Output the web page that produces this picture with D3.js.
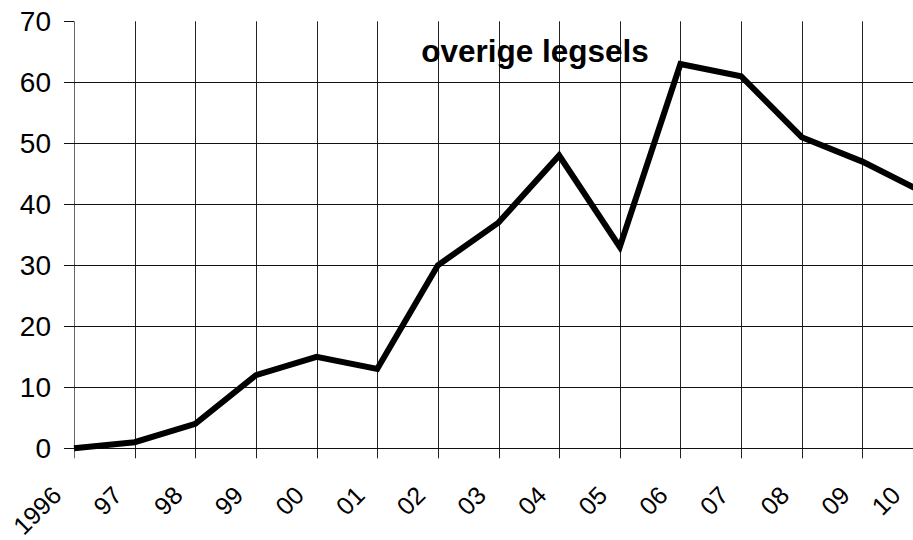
<!DOCTYPE html>
<html><head><meta charset="utf-8">
<script src="https://cdn.jsdelivr.net/npm/d3@7/dist/d3.min.js"></script>
<style>html,body{margin:0;padding:0;background:#fff;}svg{display:block;}</style>
</head><body><svg id="c" width="913" height="540"></svg>
<script>
const years = [1996,1997,1998,1999,2000,2001,2002,2003,2004,2005,2006,2007,2008,2009,2010];
const yearLabels = ["1996","97","98","99","00","01","02","03","04","05","06","07","08","09","10"];
const values = [0,1,4,12,15,13,30,37,48,33,63,61,51,47,42];
const yTicks = [0,10,20,30,40,50,60,70];
const title = "overige legsels";

const svg = d3.select("#c");
const font = "'Liberation Sans', Arial, sans-serif";
const W = 913;
const x = d3.scalePoint().domain(years).range([74, 923]);
const y = d3.scaleLinear().domain([0,70]).range([448.3, 21.3]);

// vertical grid lines (with tick extension below)
svg.append("g").selectAll("line").data(years).join("line")
  .attr("x1", d=>Math.round(x(d))+0.5).attr("x2", d=>Math.round(x(d))+0.5)
  .attr("y1", y(70)).attr("y2", y(0)+10)
  .attr("stroke", d=>d===1996?"#666":"#222").attr("stroke-width",1);

// horizontal grid lines
svg.append("g").selectAll("line").data(yTicks).join("line")
  .attr("x1", 64).attr("x2", d=>d===70?74:W)
  .attr("y1", d=>Math.round(y(d))+0.5).attr("y2", d=>Math.round(y(d))+0.5)
  .attr("stroke", "#111").attr("stroke-width",1);

// y labels
svg.append("g").selectAll("text").data(yTicks).join("text")
  .attr("x", 51).attr("y", d=>y(d)).attr("dy","0.36em")
  .attr("text-anchor","end").attr("font-family",font).attr("font-size",28)
  .attr("fill","#000").text(d=>d);

// x labels
svg.append("g").selectAll("text").data(years).join("text")
  .attr("transform", (d)=>`translate(${Math.min(x(d), W)-11},${497}) rotate(-45)`)
  .attr("text-anchor","end").attr("font-family",font).attr("font-size",25)
  .attr("fill","#000").text((d,i)=>yearLabels[i]);

// line
const line = d3.line().x((d,i)=>x(years[i])).y(d=>y(d));
svg.append("path").datum(values).attr("d", line)
  .attr("fill","none").attr("stroke","#000").attr("stroke-width",6)
  .attr("stroke-linejoin","miter");

// title
svg.append("text").attr("x",535).attr("y",62).attr("text-anchor","middle")
  .attr("font-family",font).attr("font-size",31.5).attr("font-weight","bold")
  .attr("fill","#000").text(title);
</script></body></html>
